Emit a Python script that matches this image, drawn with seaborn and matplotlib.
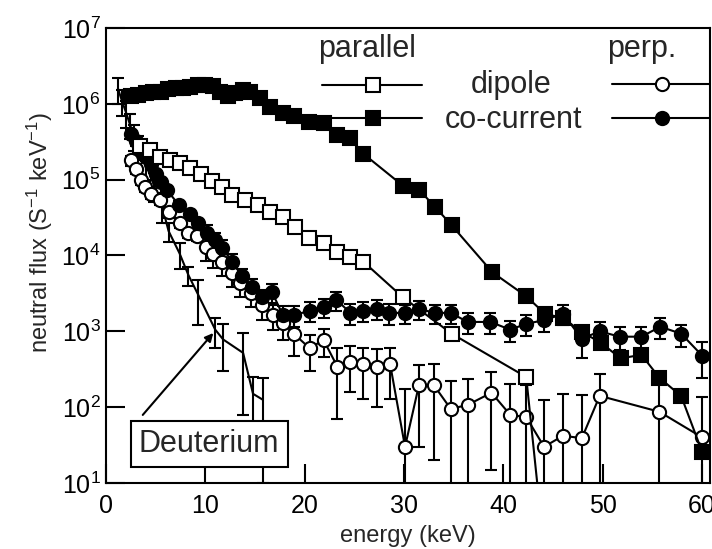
import matplotlib
matplotlib.use("Agg")
import matplotlib.pyplot as plt
import seaborn as sns
import numpy as np
import pandas as pd
from matplotlib.lines import Line2D

# ---------------- data ----------------
# parallel, co-current (filled squares)
par_co_E = [2.5, 3.25, 4.0, 4.75, 5.5, 6.25, 7.0, 7.75, 8.5, 9.25, 10.0, 10.75, 11.5, 12.25,
            13.0, 13.75, 14.5, 15.5, 16.5, 17.8, 18.9, 20.4, 21.9, 23.3, 24.6, 25.9, 29.9,
            31.5, 33.1, 34.8, 38.9, 42.3, 44.2, 46.0, 47.9, 49.8, 51.8, 53.9, 55.7, 57.9, 60.0]
par_co_F = [1.25e6, 1.3e6, 1.4e6, 1.45e6, 1.45e6, 1.55e6, 1.6e6, 1.6e6, 1.65e6, 1.75e6, 1.75e6,
            1.7e6, 1.45e6, 1.25e6, 1.4e6, 1.5e6, 1.45e6, 1.2e6, 9.1e5, 7.6e5, 6.9e5, 5.8e5,
            5.6e5, 3.9e5, 3.5e5, 2.2e5, 8.3e4, 7.4e4, 4.4e4, 2.5e4, 6.0e3, 2.9e3, 1.7e3, 1.5e3,
            980, 710, 440, 490, 245, 140, 26]

# parallel, dipole (open squares)
par_di_E = [3.4, 4.4, 5.4, 6.45, 7.45, 8.45, 9.55, 10.7, 11.7, 12.7, 14.0, 15.3, 16.5, 17.8,
            19.0, 20.4, 21.9, 23.3, 24.6, 25.9, 29.9, 34.8, 42.3, 44.2]
par_di_F = [2.8e5, 2.45e5, 2.0e5, 1.82e5, 1.66e5, 1.44e5, 1.2e5, 9.6e4, 8.0e4, 6.3e4, 5.4e4,
            4.7e4, 3.76e4, 3.2e4, 2.4e4, 1.7e4, 1.47e4, 1.12e4, 9.6e3, 8.3e3, 2.8e3, 930, 250, 1.0]

# perpendicular, dipole (open circles)
perp_di_E = [2.5, 3.0, 3.5, 3.9, 4.5, 5.4, 6.3, 7.4, 8.3, 9.2, 10.1, 10.8, 11.7, 12.7, 13.5,
             14.6, 15.7, 16.8, 17.8, 18.9, 20.5, 21.9, 23.3, 24.6, 25.9, 27.3, 28.6, 30.1,
             31.5, 33.0, 34.7, 36.4, 38.8, 40.7, 42.3, 44.1, 46.0, 47.9, 49.7, 55.7, 60.0]
perp_di_F = [1.8e5, 1.4e5, 1.0e5, 8.0e4, 6.5e4, 5.4e4, 3.7e4, 2.7e4, 2.0e4, 1.8e4, 1.3e4,
             1.05e4, 8.3e3, 5.9e3, 4.3e3, 3.2e3, 2.2e3, 1650, 1300, 930, 600, 770, 340, 400,
             370, 340, 370, 30, 195, 195, 95, 107, 155, 79, 74, 30, 42, 39, 141, 87, 40]
perp_di_err = [2.7e4, 2.1e4, 1.5e4, 1.2e4, 1.0e4, 8e3, 5.5e3, 4e3, 3e3, 2.7e3, 4.5e3, 3.7e3,
               2.9e3, 2.1e3, 1.5e3, 1.1e3, 800, 600, 520, 460, 300, 310, 270, 240, 240, 240,
               240, 145, 165, 175, 125, 130, 140, 125, 125, 95, 105, 105, 135, 155, 95]

# perpendicular, co-current (filled circles)
perp_co_E = [2.5, 3.0, 3.5, 4.0, 4.5, 5.0, 5.5, 6.1, 7.3, 8.5, 9.3, 10.2, 11.0, 11.7, 12.7,
             13.7, 14.7, 15.7, 16.7, 17.8, 18.9, 20.5, 21.9, 23.2, 24.6, 25.9, 27.3, 28.5,
             30.1, 31.5, 33.1, 34.7, 36.4, 38.7, 40.7, 42.3, 44.1, 46.0, 47.9, 49.7, 51.7,
             53.9, 55.8, 57.9, 60.0]
perp_co_F = [4.0e5, 3.2e5, 2.5e5, 2.0e5, 1.6e5, 1.2e5, 9.3e4, 7.4e4, 4.7e4, 3.5e4, 2.7e4,
             2.0e4, 1.6e4, 1.26e4, 8.3e3, 5.3e3, 3.9e3, 2.8e3, 3.3e3, 1640, 1640, 1860, 2100,
             2600, 1750, 1860, 2000, 1750, 1750, 1980, 1750, 1750, 1330, 1330, 1050, 1260,
             1400, 1700, 800, 1000, 850, 850, 1150, 930, 480]
perp_co_err = [5e4, 4e4, 3e4, 2.4e4, 1.9e4, 1.4e4, 1.1e4, 9e3, 6e3, 4.5e3, 3.5e3, 5e3, 4e3,
               3.2e3, 2.1e3, 1.3e3, 1e3, 700, 900, 500, 500, 550, 600, 750, 550, 550, 600,
               550, 500, 550, 500, 500, 400, 400, 330, 380, 420, 500, 350, 330, 280, 280,
               350, 300, 240]

# Deuterium (line + error bars)
deut_E = [1.2, 1.6, 2.0, 2.4, 2.8, 3.2, 4.0, 4.8, 5.6, 6.3, 7.4, 8.3, 9.3, 11.0, 11.8, 13.8,
          14.8, 15.8]
deut_F = [1.6e6, 1.1e6, 7.8e5, 5.4e5, 3.8e5, 2.8e5, 1.6e5, 8.6e4, 4.7e4, 2.1e4, 1.07e4,
          5.5e3, 3.0e3, 1.05e3, 780, 520, 150, 125]
deut_err = [6e5, 4e5, 3e5, 2e5, 1.4e5, 1e5, 6e4, 3.5e4, 2e4, 6e3, 4e3, 1.5e3, 1.8e3, 450,
            480, 440, 100, 115]

x_ticks = [0, 10, 20, 30, 40, 50, 60]
y_ticks = [1e1, 1e2, 1e3, 1e4, 1e5, 1e6, 1e7]

# ---------------- style ----------------
sns.set_style("ticks")
plt.rcParams['font.family'] = ['Liberation Sans', 'DejaVu Sans']
plt.rcParams['mathtext.fontset'] = 'custom'
plt.rcParams['mathtext.rm'] = 'Liberation Sans'
plt.rcParams['mathtext.it'] = 'Liberation Sans:italic'
plt.rcParams['mathtext.bf'] = 'Liberation Sans:bold'

fig = plt.figure(figsize=(7.12, 5.49), dpi=100)
ax = fig.add_axes([106 / 712, 1 - 483 / 549, 604 / 712, 455 / 549])
ax.set_yscale('log')

LW = 1.5
ebkw = dict(fmt='none', ecolor='black', elinewidth=LW, capsize=4.5, capthick=LW, zorder=2)

# error bars
ax.errorbar(deut_E, deut_F, yerr=deut_err, **ebkw)
ax.errorbar(perp_di_E, perp_di_F, yerr=perp_di_err, **ebkw)
ax.errorbar(perp_co_E, perp_co_F, yerr=perp_co_err, **ebkw)

df_deut = pd.DataFrame({'E': deut_E, 'F': deut_F})
sns.lineplot(data=df_deut, x='E', y='F', ax=ax, color='black', lw=LW, errorbar=None,
             sort=False, zorder=3)

df_pdi = pd.DataFrame({'E': perp_di_E, 'F': perp_di_F})
sns.lineplot(data=df_pdi, x='E', y='F', ax=ax, color='black', lw=LW, errorbar=None, sort=False,
             marker='o', markersize=9.5, markerfacecolor='white', markeredgecolor='black',
             markeredgewidth=LW, zorder=4)

df_pco = pd.DataFrame({'E': perp_co_E, 'F': perp_co_F})
sns.lineplot(data=df_pco, x='E', y='F', ax=ax, color='black', lw=LW, errorbar=None, sort=False,
             marker='o', markersize=9.5, markerfacecolor='black', markeredgecolor='black',
             markeredgewidth=LW, zorder=4)

df_pardi = pd.DataFrame({'E': par_di_E, 'F': par_di_F})
sns.lineplot(data=df_pardi, x='E', y='F', ax=ax, color='black', lw=LW, errorbar=None, sort=False,
             marker='s', markersize=9.5, markerfacecolor='white', markeredgecolor='black',
             markeredgewidth=LW, zorder=5)

df_parco = pd.DataFrame({'E': par_co_E, 'F': par_co_F})
sns.lineplot(data=df_parco, x='E', y='F', ax=ax, color='black', lw=LW, errorbar=None, sort=False,
             marker='s', markersize=10, markerfacecolor='black', markeredgecolor='black',
             markeredgewidth=LW, zorder=5)

# axes
ax.set_xlim(0, 60.8)
ax.set_ylim(1e1, 1e7)
ax.set_xticks(x_ticks)
ax.set_yticks(y_ticks)
ax.minorticks_off()
ax.yaxis.set_minor_locator(matplotlib.ticker.NullLocator())
ax.tick_params(axis='both', which='major', direction='in', length=14, width=LW,
               labelsize=18, top=False, right=False, color='black', labelcolor='black')
ax.tick_params(axis='x', pad=8)
ax.tick_params(axis='y', pad=4)
for s in ax.spines.values():
    s.set_linewidth(LW)
    s.set_color('black')
    s.set_visible(True)
ax.grid(False)

ax.set_xlabel('energy (keV)', fontsize=17, labelpad=5)
ax.set_ylabel(r'neutral flux (S$^{\mathregular{-1}}$ keV$^{\mathregular{-1}}$)', fontsize=17)
ax.yaxis.set_label_coords(-0.085, 0.55)

# custom legend
T = ax.transAxes
ax.text(0.432, 0.936, 'parallel', transform=T, ha='center', va='baseline', fontsize=22, zorder=7)
ax.text(0.887, 0.936, 'perp.', transform=T, ha='center', va='baseline', fontsize=22, zorder=7)
ax.text(0.671, 0.857, 'dipole', transform=T, ha='center', va='baseline', fontsize=22, zorder=7)
ax.text(0.675, 0.780, 'co-current', transform=T, ha='center', va='baseline', fontsize=22, zorder=7)
for (x0, x1, xm, y, mk, fc) in [(0.358, 0.523, 0.442, 0.875, 's', 'white'),
                                  (0.358, 0.523, 0.442, 0.802, 's', 'black'),
                                  (0.838, 1.0, 0.921, 0.877, 'o', 'white'),
                                  (0.838, 1.0, 0.921, 0.802, 'o', 'black')]:
    ax.add_line(Line2D([x0, x1], [y, y], transform=T, color='black', lw=LW, zorder=7,
                       clip_on=False))
    ax.add_line(Line2D([xm], [y], transform=T, marker=mk, markersize=10 if mk == 's' else 9.5,
                       markerfacecolor=fc, markeredgecolor='black', markeredgewidth=LW,
                       linestyle='none', zorder=8, clip_on=False))

# Deuterium label with arrow
ax.annotate('', xy=(10.8, 950), xytext=(3.7, 79),
            arrowprops=dict(arrowstyle='-|>', color='black', lw=LW, mutation_scale=12,
                            shrinkA=0, shrinkB=0), zorder=9)
ax.text(10.37, 32.7, 'Deuterium', ha='center', va='center', fontsize=22, zorder=10,
        bbox=dict(boxstyle='square,pad=0.27', fc='white', ec='black', lw=LW))

fig.savefig('out.png', dpi=100)
